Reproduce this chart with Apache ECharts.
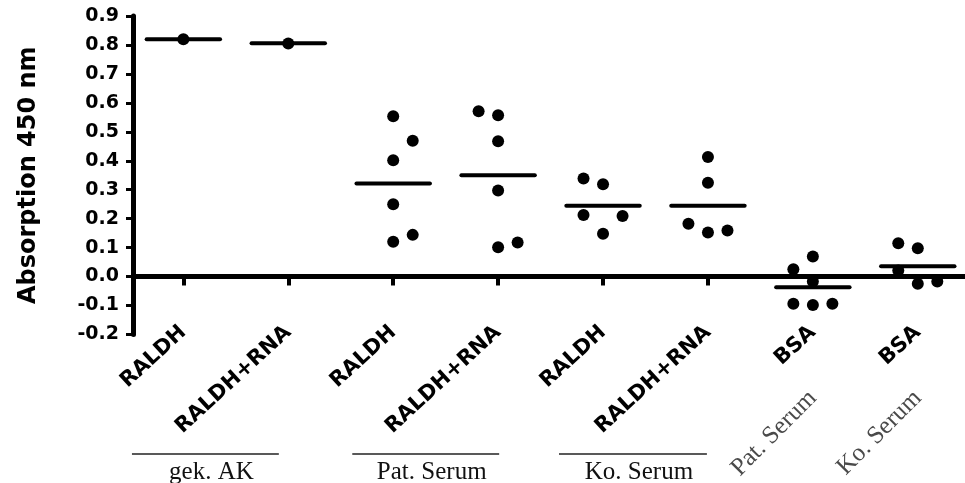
<!DOCTYPE html>
<html>
<head>
<meta charset="utf-8">
<script src="https://cdn.jsdelivr.net/npm/echarts@6/dist/echarts.min.js"></script>
<style>
  html, body { margin: 0; padding: 0; background: #fff; }
  #chart { width: 965px; height: 483px; }
</style>
</head>
<body>
<div id="chart"></div>
<script>
// categories along the x axis
const categories = ['RALDH', 'RALDH+RNA', 'RALDH', 'RALDH+RNA', 'RALDH', 'RALDH+RNA', 'BSA', 'BSA'];
// grey sub labels under the two BSA columns
const sourceLabels = ['', '', '', '', '', '', 'Pat. Serum', 'Ko. Serum'];
// bracket groups under the pairs
const groupNames = ['gek. AK', 'Pat. Serum', 'Ko. Serum'];
const groupSpans = [[-0.49, 0.91], [1.61, 3.01], [3.58, 4.99]];

// absorption values per column
const gekRaldh = [0.82];
const gekRaldhRna = [0.805];
const patRaldh = [0.554, 0.469, 0.402, 0.250, 0.120, 0.144];
const patRaldhRna = [0.571, 0.557, 0.467, 0.297, 0.101, 0.118];
const koRaldh = [0.339, 0.319, 0.213, 0.209, 0.148];
const koRaldhRna = [0.413, 0.324, 0.182, 0.152, 0.159];
const patBsa = [0.069, 0.025, -0.017, -0.094, -0.098, -0.094];
const koBsa = [0.115, 0.098, 0.021, -0.025, -0.017];

// side-by-side slot of each dot (-1 left, 0 centre, 1 right)
const gekRaldhSlot = [0];
const gekRaldhRnaSlot = [0];
const patRaldhSlot = [0, 1, 0, 0, 0, 1];
const patRaldhRnaSlot = [-1, 0, 0, 0, 0, 1];
const koRaldhSlot = [-1, 0, -1, 1, 0];
const koRaldhRnaSlot = [0, 0, -1, 0, 1];
const patBsaSlot = [0, -1, 0, -1, 0, 1];
const koBsaSlot = [-1, 0, -1, 0, 1];

// mean bars
const means = [0.82, 0.806, 0.321, 0.350, 0.245, 0.245, -0.037, 0.036];

const yMin = -0.2, yMax = 0.9, yStep = 0.1;
const xMin = -0.48, xMax = 7.45;
const SLOT_W = 0.186;
const MEAN_HALF = 0.35;

const columns = [gekRaldh, gekRaldhRna, patRaldh, patRaldhRna, koRaldh, koRaldhRna, patBsa, koBsa];
const slots = [gekRaldhSlot, gekRaldhRnaSlot, patRaldhSlot, patRaldhRnaSlot, koRaldhSlot, koRaldhRnaSlot, patBsaSlot, koBsaSlot];

const points = [];
columns.forEach((vals, i) => {
  vals.forEach((v, j) => points.push([i + slots[i][j] * SLOT_W, v]));
});
const catIdx = categories.map((c, i) => i);

const chart = echarts.init(document.getElementById('chart'));

chart.setOption({
  animation: false,
  grid: { left: 133, right: 0, top: 16, bottom: 141 },
  xAxis: [
    {
      type: 'value', min: xMin, max: xMax,
      axisLine: { show: true, onZero: true, lineStyle: { color: '#000', width: 5 } },
      axisTick: { show: true, customValues: catIdx, length: 9, lineStyle: { color: '#000', width: 4 } },
      axisLabel: { show: false },
      splitLine: { show: false }
    },
    {
      type: 'value', min: xMin, max: xMax, position: 'bottom',
      axisLine: { show: false, onZero: false },
      axisTick: { show: false },
      splitLine: { show: false },
      axisLabel: {
        customValues: catIdx,
        rotate: 42.5,
        margin: -5,
        color: '#000',
        fontFamily: 'DejaVu Sans',
        fontWeight: 'bold',
        fontSize: 21,
        formatter: v => categories[Math.round(v)]
      }
    },
    {
      type: 'value', min: xMin, max: xMax, position: 'bottom',
      axisLine: { show: false, onZero: false },
      axisTick: { show: false },
      splitLine: { show: false },
      axisLabel: {
        customValues: [6, 7],
        rotate: 45,
        margin: 60,
        color: '#4a4a4a',
        fontFamily: 'Liberation Serif',
        fontSize: 25,
        formatter: v => sourceLabels[Math.round(v)]
      }
    }
  ],
  yAxis: {
    type: 'value', min: yMin, max: yMax, interval: yStep,
    name: 'Absorption 450 nm',
    nameLocation: 'middle',
    nameGap: 92,
    nameTextStyle: { color: '#000', fontFamily: 'DejaVu Sans', fontWeight: 'bold', fontSize: 24 },
    axisLine: { show: true, onZero: false, lineStyle: { color: '#000', width: 5 } },
    axisTick: { show: true, length: 7, lineStyle: { color: '#000', width: 3 } },
    axisLabel: {
      margin: 14,
      color: '#000',
      fontFamily: 'DejaVu Sans',
      fontWeight: 'bold',
      fontSize: 19,
      formatter: v => v.toFixed(1)
    },
    splitLine: { show: false }
  },
  series: [
    {
      type: 'scatter',
      xAxisIndex: 0,
      symbol: 'circle',
      symbolSize: 12,
      itemStyle: { color: '#000', opacity: 1 },
      data: points
    },
    {
      type: 'custom',
      xAxisIndex: 0,
      data: means.map((m, i) => [i, m]),
      renderItem: (params, api) => {
        const a = api.coord([api.value(0) - MEAN_HALF, api.value(1)]);
        const b = api.coord([api.value(0) + MEAN_HALF, api.value(1)]);
        return {
          type: 'line',
          shape: { x1: a[0], y1: a[1], x2: b[0], y2: b[1] },
          style: { stroke: '#000', lineWidth: 4, lineCap: 'round' }
        };
      }
    }
  ]
});

// group brackets below the axis labels
const graphics = [];
groupSpans.forEach((span, k) => {
  const x1 = chart.convertToPixel({ xAxisIndex: 0 }, span[0]);
  const x2 = chart.convertToPixel({ xAxisIndex: 0 }, span[1]);
  graphics.push({
    type: 'line',
    shape: { x1: x1, y1: 454, x2: x2, y2: 454 },
    style: { stroke: '#222', lineWidth: 1.5 }
  });
  graphics.push({
    type: 'text',
    x: (x1 + x2) / 2 + 6,
    y: 472,
    style: {
      text: groupNames[k],
      fill: '#111',
      font: '25px "Liberation Serif"',
      align: 'center',
      verticalAlign: 'middle'
    }
  });
});
chart.setOption({ graphic: graphics });
</script>
</body>
</html>
